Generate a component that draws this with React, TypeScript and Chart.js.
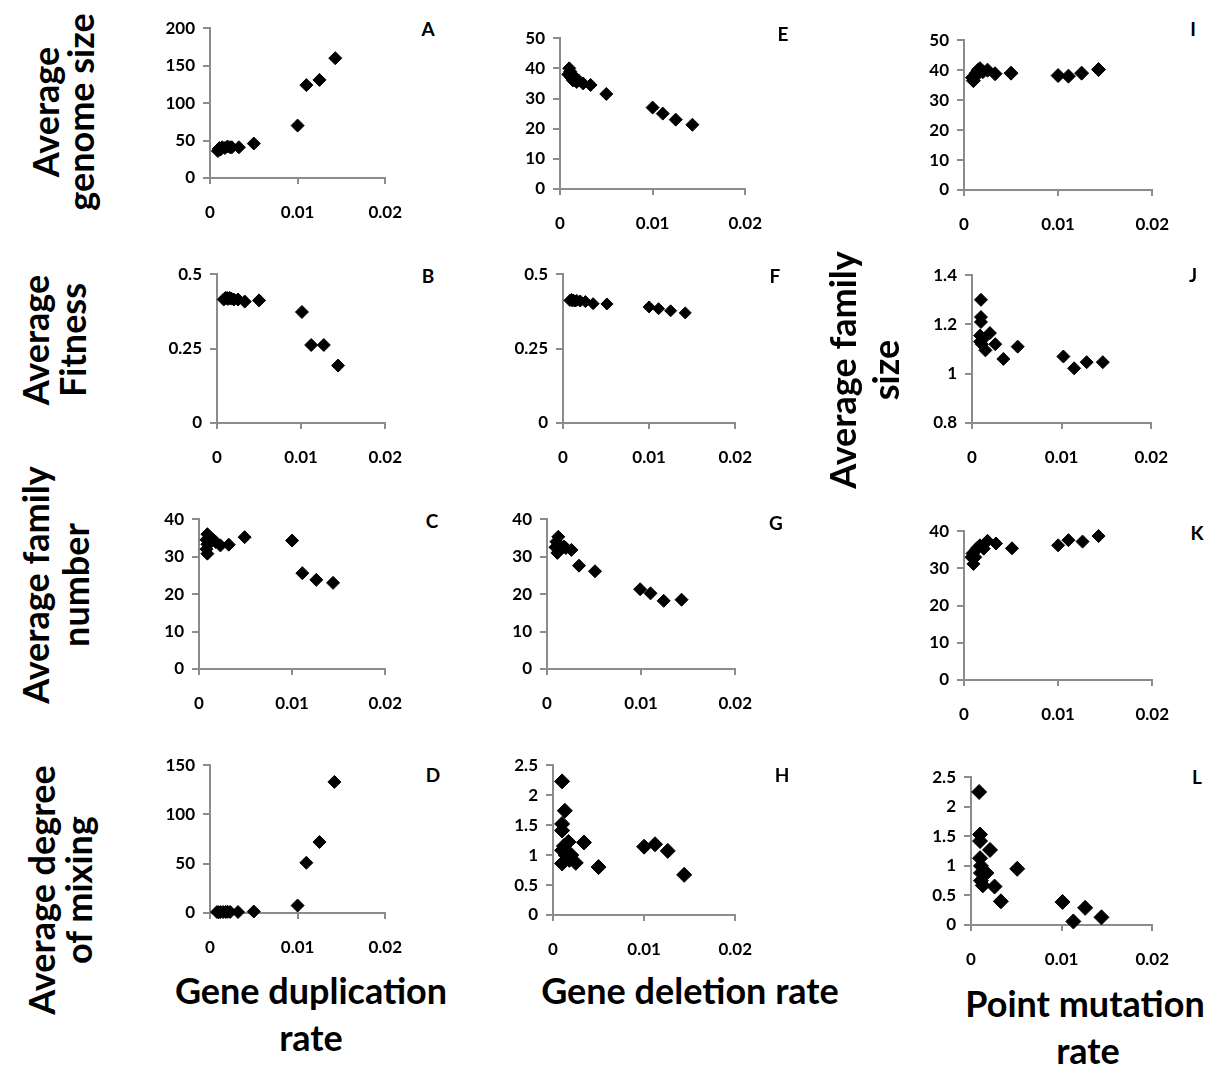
import React, { useEffect, useRef } from "react";
import { Chart, registerables } from "chart.js";

Chart.register(...registerables);

const FONT = "Lato, 'Open Sans', 'DejaVu Sans', sans-serif";
const AXIS = "#8c8c8c";

// ---------- data ----------
const aX = [0.0009, 0.001, 0.0011, 0.0012, 0.0014, 0.0017, 0.002, 0.0023, 0.0025, 0.0033, 0.005, 0.01, 0.011, 0.0125, 0.0143];
const aY = [36, 39, 40, 38, 41, 40, 42, 41, 41, 41, 46, 70, 124, 131, 160];

const eX = [0.0009, 0.001, 0.0011, 0.0012, 0.0013, 0.0014, 0.0016, 0.0018, 0.002, 0.0025, 0.0033, 0.005, 0.01, 0.0111, 0.0125, 0.0143];
const eY = [38, 40, 39, 37, 38, 36, 36.5, 35.5, 36, 35, 34.5, 31.5, 27, 25, 23, 21.3];

const iX = [0.0009, 0.001, 0.0012, 0.0013, 0.0015, 0.0017, 0.002, 0.0025, 0.0033, 0.005, 0.01, 0.0111, 0.0125, 0.0143];
const iY = [37.5, 36.5, 38, 39, 40, 40.5, 39.5, 40, 38.8, 39, 38.2, 38, 39, 40.2];

const bX = [0.0008, 0.001, 0.0012, 0.0013, 0.0015, 0.0017, 0.002, 0.0025, 0.0033, 0.005, 0.0101, 0.0112, 0.0127, 0.0144];
const bY = [0.415, 0.42, 0.42, 0.417, 0.42, 0.418, 0.415, 0.415, 0.408, 0.412, 0.373, 0.262, 0.262, 0.193];

const fX = [0.0008, 0.001, 0.0011, 0.0012, 0.0014, 0.0016, 0.002, 0.0026, 0.0035, 0.0051, 0.01, 0.0111, 0.0125, 0.0142];
const fY = [0.412, 0.415, 0.41, 0.413, 0.41, 0.412, 0.41, 0.408, 0.401, 0.4, 0.39, 0.384, 0.377, 0.37];

const jX = [0.001, 0.001, 0.001, 0.0009, 0.0009, 0.0012, 0.0011, 0.0015, 0.002, 0.0026, 0.0035, 0.0051, 0.0102, 0.0114, 0.0128, 0.0146];
const jY = [1.3, 1.23, 1.21, 1.155, 1.13, 1.14, 1.12, 1.095, 1.165, 1.12, 1.06, 1.11, 1.07, 1.022, 1.047, 1.047];

const cX = [0.0009, 0.0008, 0.0009, 0.0008, 0.0009, 0.0011, 0.0013, 0.0015, 0.0018, 0.0023, 0.0032, 0.0049, 0.01, 0.0111, 0.0126, 0.0144];
const cY = [36, 34.5, 33.3, 32, 30.8, 35, 34, 34.6, 33.9, 33, 33.2, 35.2, 34.3, 25.6, 23.8, 23];

const gX = [0.0012, 0.001, 0.0009, 0.0011, 0.0013, 0.0015, 0.0018, 0.002, 0.0026, 0.0034, 0.0051, 0.0099, 0.011, 0.0124, 0.0143];
const gY = [35.3, 34, 32.5, 31, 33, 32.5, 32.7, 32.3, 31.8, 27.6, 26.1, 21.3, 20.2, 18.2, 18.5];

const kX = [0.001, 0.0008, 0.0009, 0.0012, 0.0013, 0.0014, 0.0017, 0.0021, 0.0025, 0.0034, 0.0051, 0.01, 0.0111, 0.0126, 0.0143];
const kY = [31.2, 33, 34, 33, 35, 35.5, 36.2, 35.3, 37.4, 36.7, 35.4, 36.2, 37.6, 37.2, 38.7];

const dX = [0.0008, 0.001, 0.0012, 0.0015, 0.0018, 0.002, 0.0023, 0.0032, 0.005, 0.01, 0.011, 0.0125, 0.0142];
const dY = [1, 0.8, 0.9, 1, 1, 1.2, 1.1, 1, 1.5, 7.6, 51, 72, 133];

const hX = [0.001, 0.0013, 0.001, 0.001, 0.0017, 0.0012, 0.001, 0.0014, 0.001, 0.0018, 0.002, 0.0025, 0.0034, 0.005, 0.01, 0.0112, 0.0126, 0.0144];
const hY = [2.23, 1.74, 1.52, 1.41, 1.22, 1.15, 1.08, 1.0, 0.86, 0.92, 1.0, 0.87, 1.21, 0.8, 1.14, 1.18, 1.07, 0.67];

const lX = [0.0009, 0.001, 0.001, 0.001, 0.0011, 0.0011, 0.0017, 0.0011, 0.0013, 0.0021, 0.0026, 0.0033, 0.0051, 0.0101, 0.0113, 0.0126, 0.0144];
const lY = [2.25, 1.53, 1.42, 1.13, 1.0, 0.88, 0.88, 0.75, 0.67, 1.27, 0.65, 0.4, 0.95, 0.39, 0.06, 0.29, 0.13];

const xTicks = [0, 0.01, 0.02];

// ---------- layout ----------
const ML = 70, MT = 15, MR = 25, MB = 50;

type PanelDef = {
  letter: string; xs: number[]; ys: number[];
  yMin: number; yMax: number; yStep: number;
  rect: [number, number, number, number];
  letterPos: [number, number]; radius: number;
};

const panels: PanelDef[] = [
  { letter: "A", xs: aX, ys: aY, yMin: 0, yMax: 200, yStep: 50, rect: [210, 25, 395, 178], letterPos: [428, 28], radius: 6.5 },
  { letter: "E", xs: eX, ys: eY, yMin: 0, yMax: 50, yStep: 10, rect: [560, 35, 755, 189], letterPos: [783, 33], radius: 6.5 },
  { letter: "I", xs: iX, ys: iY, yMin: 0, yMax: 50, yStep: 10, rect: [964, 37, 1162, 190], letterPos: [1193, 28], radius: 7 },
  { letter: "B", xs: bX, ys: bY, yMin: 0, yMax: 0.5, yStep: 0.25, rect: [217, 271, 395, 423], letterPos: [428, 275], radius: 6.5 },
  { letter: "F", xs: fX, ys: fY, yMin: 0, yMax: 0.5, yStep: 0.25, rect: [563, 271, 745, 423], letterPos: [775, 275], radius: 6 },
  { letter: "J", xs: jX, ys: jY, yMin: 0.8, yMax: 1.4, yStep: 0.2, rect: [972, 272, 1161, 423], letterPos: [1193, 274], radius: 6.5 },
  { letter: "C", xs: cX, ys: cY, yMin: 0, yMax: 40, yStep: 10, rect: [199, 516, 395, 669], letterPos: [432, 520], radius: 6.5 },
  { letter: "G", xs: gX, ys: gY, yMin: 0, yMax: 40, yStep: 10, rect: [547, 516, 745, 669], letterPos: [776, 522], radius: 6.5 },
  { letter: "K", xs: kX, ys: kY, yMin: 0, yMax: 40, yStep: 10, rect: [964, 528, 1162, 680], letterPos: [1197, 532], radius: 6.5 },
  { letter: "D", xs: dX, ys: dY, yMin: 0, yMax: 150, yStep: 50, rect: [210, 762, 395, 913], letterPos: [433, 774], radius: 6.5 },
  { letter: "H", xs: hX, ys: hY, yMin: 0, yMax: 2.5, yStep: 0.5, rect: [553, 762, 745, 915], letterPos: [782, 774], radius: 7.5 },
  { letter: "L", xs: lX, ys: lY, yMin: 0, yMax: 2.5, yStep: 0.5, rect: [971, 774, 1162, 925], letterPos: [1197, 776], radius: 7.5 },
];

const fmt = (v: number | string) => String(parseFloat(Number(v).toFixed(4)));
const tickFont = { family: FONT, size: 17, weight: "bold" as const };

function Panel({ p }: { p: PanelDef }) {
  const ref = useRef<HTMLCanvasElement>(null);
  const [l, t, r, b] = p.rect;
  const w = r - l + ML + MR;
  const h = b - t + MT + MB;
  useEffect(() => {
    const chart = new Chart(ref.current as HTMLCanvasElement, {
      type: "scatter",
      data: {
        datasets: [
          {
            data: p.xs.map((x, i) => ({ x, y: p.ys[i] })),
            pointStyle: "rectRot",
            pointRadius: p.radius,
            backgroundColor: "#000",
            borderColor: "#000",
            borderWidth: 1,
            clip: false as any,
          },
        ],
      },
      options: {
        animation: false,
        responsive: false,
        events: [],
        layout: { padding: { left: 0, top: MT, right: MR, bottom: 0 } },
        plugins: { legend: { display: false }, tooltip: { enabled: false } },
        scales: {
          x: {
            type: "linear",
            min: 0,
            max: 0.02,
            afterBuildTicks: (s: any) => { s.ticks = xTicks.map((v) => ({ value: v })); },
            ticks: { padding: 18, color: "#000", font: tickFont, callback: fmt, maxRotation: 0, autoSkip: false },
            grid: { drawOnChartArea: false, drawTicks: true, tickLength: 6, color: AXIS, lineWidth: 2 },
            border: { display: true, color: AXIS, width: 2 },
            afterFit: (s: any) => { s.height = MB; },
          },
          y: {
            type: "linear",
            min: p.yMin,
            max: p.yMax,
            ticks: { stepSize: p.yStep, padding: 8, color: "#000", font: tickFont, callback: fmt, autoSkip: false },
            grid: { drawOnChartArea: false, drawTicks: true, tickLength: 7, color: AXIS, lineWidth: 2 },
            border: { display: true, color: AXIS, width: 2 },
            afterFit: (s: any) => { s.width = ML; },
          },
        },
      } as any,
    });
    return () => chart.destroy();
  }, []);
  return (
    <>
      <canvas ref={ref} width={w} height={h} style={{ position: "absolute", left: l - ML, top: t - MT, width: w, height: h }} />
      <div style={{ position: "absolute", left: p.letterPos[0], top: p.letterPos[1], transform: "translate(-50%,-50%)", font: `bold 19px ${FONT}`, color: "#000" }}>{p.letter}</div>
    </>
  );
}

const titleStyle = (cx: number, cy: number, rot: boolean): React.CSSProperties => ({
  position: "absolute",
  left: cx,
  top: cy,
  transform: rot ? "translate(-50%,-50%) rotate(-90deg)" : "translate(-50%,-50%)",
  whiteSpace: "pre",
  font: `bold 36px ${FONT}`,
  lineHeight: "40px",
  color: "#000",
});

const yTitles: [string, number, number][] = [
  ["Average", 45, 112], ["genome size", 80, 112],
  ["Average", 35, 340], ["Fitness", 72, 340],
  ["Average family", 35, 585], ["number", 75, 585],
  ["Average degree", 41, 890], ["of mixing", 78, 890],
  ["Average family", 842, 370], ["size", 885, 370],
];

const xTitles: [string, number, number][] = [
  ["Gene duplication", 311, 990], ["rate", 311, 1037],
  ["Gene deletion rate", 690, 990],
  ["Point mutation", 1085, 1003], ["rate", 1088, 1050],
];

export default function App() {
  return (
    <div style={{ position: "absolute", left: 0, top: 0, width: 1215, height: 1066, background: "#fff", overflow: "hidden" }}>
      {panels.map((p) => <Panel key={p.letter} p={p} />)}
      {yTitles.map(([s, x, y], i) => <div key={"y" + i} style={titleStyle(x, y, true)}>{s}</div>)}
      {xTitles.map(([s, x, y], i) => <div key={"x" + i} style={titleStyle(x, y, false)}>{s}</div>)}
    </div>
  );
}
